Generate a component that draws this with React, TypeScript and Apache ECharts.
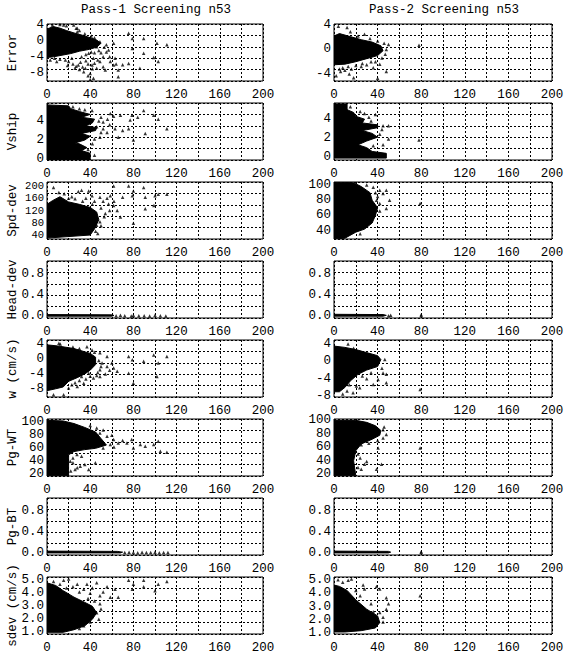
import React, { useEffect, useRef } from "react";
import * as echarts from "echarts";

const titles = ["Pass-1 Screening n53", "Pass-2 Screening n53"];
const yNames = ["Error", "Vship", "Spd-dev", "Head-dev", "w (cm/s)", "Pg-WT", "Pg-BT", "sdev (cm/s)"];
const xTickStep = 40;
const xMax = 200;

const yRangesP1 = [[-10.1, 4.25], [-0.1, 5.9], [27, 213], [-0.04, 1.04], [-10.2, 5.1], [17.5, 105], [-0.045, 1.056], [0.87, 5.25]];
const yRangesP2 = [[-5.15, 4.16], [-0.3, 5.7], [29, 104], [-0.04, 1.04], [-8.2, 4.9], [17.5, 102], [-0.045, 1.056], [0.95, 5.2]];
const yTicksP1 = [[4, 0, -4, -8], [0, 2, 4], [40, 80, 120, 160, 200], [0, 0.4, 0.8], [4, 0, -4, -8], [20, 40, 60, 80, 100], [0, 0.4, 0.8], [1, 2, 3, 4, 5]];
const yTicksP2 = [[4, 0, -4], [0, 2, 4], [40, 60, 80, 100], [0, 0.4, 0.8], [4, 0, -4, -8], [20, 40, 60, 80, 100], [0, 0.4, 0.8], [1, 2, 3, 4, 5]];
const yDecimals = [0, 0, 0, 1, 0, 0, 1, 1];

// ---- Error ----
const errP1Blob = [[0, 3.0], [6, 3.6], [12, 3.2], [18, 2.6], [25, 2.0], [33, 1.4], [40, 0.8], [46, 0.2], [50, -0.6], [46, -1.6], [38, -2.2], [30, -2.6], [22, -3.2], [14, -3.6], [6, -4.0], [0, -4.2]];
const errP1Pts = [[40, -9.7], [28, 2.3], [5, 4.0], [12, 4.1], [18, 3.8], [27, 3.2], [75.6, 1.9], [79, 0.6], [89.5, 0.6], [101.8, -0.6], [111, -1.0], [79, -1.9], [89.5, -3.1], [98.8, -4.2], [103, -5.2], [86, -6.9], [75.6, -5.7], [66, -9.0], [66, -7.3], [61.7, -6.1], [63, -4.4], [61.7, -0.6], [57, -2.3], [49, -0.2], [46, -1.5], [52, -4], [49, -5.2], [54, -7.3], [41.7, -6.1], [35.5, -6.9], [29, -6.1], [26, -6.9], [20, -5.2], [17, -4.8], [9, -5.2], [3, -4.8], [32, -4], [38.6, -3.1], [43, -4.4], [46, -6.9], [52, -6.5], [40, -8.2], [34, -7.8], [43, -9.4], [58.6, -5.2], [28, 3.2], [24.7, 4.0], [15.4, 4.0], [24, -5.8], [30, -7.2], [44, -5.6], [36, -5.0], [27, -6.4], [31, -5.4], [33, -6.6], [38, -5.8], [42, -7.0], [47, -4.8], [50, -3.0], [53, -1.6], [55, -2.8], [23, -4.4], [19, -6.2], [12, -4.6], [7, -4.4], [48, -2.4], [44, -3.0], [41, -2.8], [36, -3.4], [35, 1.8], [30, 2.6], [41, 1.2], [44, 0.8], [55, -1.0], [58, -4.0], [64, -5.8], [70, -6.0], [38, -8.8]];
const errP2Blob = [[0, 2.2], [5, 2.6], [15, 2.1], [25, 1.6], [35, 1.2], [43, 0.6], [45, -0.2], [40, -1.0], [30, -1.5], [20, -2.0], [10, -2.4], [0, -2.5]];
const errP2Pts = [[4, 3.8], [12, 3.6], [15, 2.9], [28, 2.5], [48, 0.0], [50, 0.8], [78, 0.7], [5, -3.2], [10, -3.4], [16, -3.2], [20, -2.6], [30, -2.5], [36, -3.0], [40, -4.7], [18, -4.6], [2, -4.3], [48, -3.6], [42, -2.4], [38, -2.0], [8, -3.0], [25, -2.8], [22, 2.2], [33, 1.8], [40, 1.4], [46, 1.0], [47, -0.8], [44, -1.4], [34, -2.0], [26, -2.3], [13, -2.8], [6, -3.6], [14, -4.0]];

// ---- Vship ----
const vshP1Blob = [[0, -0.05], [40, -0.05], [40, 0.6], [32, 0.9], [37, 1.2], [30, 1.6], [26, 1.7], [35, 2.0], [40, 2.4], [32, 2.7], [45, 3.0], [46, 3.3], [36, 3.5], [42, 3.8], [44, 4.2], [32, 4.4], [40, 4.7], [30, 5.0], [22, 5.3], [20, 5.6], [0, 5.7]];
const vshP1Pts = [[61.7, 4.5], [68, 4.6], [78.7, 4.6], [89.5, 5.1], [98.8, 4.6], [103, 4.2], [111, 3.2], [91, 2.7], [77, 4.1], [75.6, 3.2], [63, 3.2], [55.6, 2.8], [49, 2.3], [66, 2.3], [80, 2.0], [58.6, 4.8], [46, 3.4], [41.7, 5.1], [52, 3.9], [34, 2.5], [28, 1.4], [50, 4.4], [56, 4.2], [44, 2.1], [24, 5.5], [30, 5.3], [35, 5.2], [48, 4.0], [52, 3.2], [42, 1.6], [38, 1.0], [44, 0.4], [36, 4.1], [50, 2.8], [58, 3.6], [70, 3.0], [84, 4.4]];
const vshP2Blob = [[0, -0.1], [48, -0.1], [48, 0.4], [35, 0.6], [30, 1.0], [22, 1.3], [30, 1.7], [40, 2.1], [35, 2.5], [26, 2.8], [40, 3.1], [40, 3.4], [26, 3.6], [28, 4.0], [20, 4.3], [18, 4.7], [12, 5.0], [12, 5.6], [0, 5.6]];
const vshP2Pts = [[28, 4.6], [38, 4.5], [12, 4.9], [20, 3.9], [45, 3.3], [50, 3.3], [50, 1.9], [78, 1.8], [45, 1.3], [32, 4.2], [15, 5.3], [24, 4.8], [34, 3.8], [42, 2.4], [36, 1.2], [44, 2.9]];

// ---- Spd-dev ----
const spdP1Blob = [[0, 30], [40, 40], [44, 60], [48, 90], [46, 115], [40, 130], [30, 140], [20, 148], [12, 165], [5, 152], [0, 140]];
const spdP1Pts = [[6, 195], [11, 179], [23, 165], [29, 182], [32, 186], [38.6, 184], [41.7, 168], [49, 163], [55.6, 160], [58.6, 168], [61.7, 200], [75.6, 200], [79, 168], [80, 184], [89.5, 195], [91, 163], [100, 168], [103, 173], [111, 173], [91, 126], [99, 136], [80, 78], [68, 99], [61.7, 136], [54, 110], [49, 83], [46, 72], [65, 120], [57, 141], [52, 150], [44, 150], [36, 160], [26, 158], [33, 150], [42, 140], [50, 128], [53, 100], [50, 70], [45, 52], [16, 175], [20, 160], [58, 120], [62, 150], [70, 163], [47, 45]];
const spdP2Blob = [[0, 29], [10, 30], [20, 38], [28, 42], [35, 50], [38, 60], [40, 70], [35, 80], [33, 90], [25, 98], [18, 103], [0, 104]];
const spdP2Pts = [[42, 93.3], [48, 93.3], [45, 88.9], [39, 80], [51, 80], [42, 75.6], [48, 69], [79, 75.6], [37.4, 62], [34, 53], [30, 100], [36, 97], [40, 85], [38, 90], [42, 66], [30, 46], [24, 36]];

// ---- Head-dev ----
const hdgP1Blob = [[0, -0.005], [60, -0.005], [62, 0.008], [60, 0.02], [0, 0.025]];
const hdgP1Pts = [[64, 0.005], [68, 0.01], [72, 0.005], [78, 0.0], [80, 0.01], [85, 0.005], [90, 0.005], [95, 0.0], [100, 0.01], [105, 0.005], [110, 0.0]];
const hdgP2Blob = [[0, -0.005], [45, -0.005], [48, 0.01], [45, 0.025], [0, 0.03]];
const hdgP2Pts = [[50, 0.005], [52, 0.01], [80, 0.005], [80, 0.02]];

// ---- w (cm/s) ----
const wP1Blob = [[0, 3.8], [10, 3.5], [25, 2.8], [40, 1.5], [45, 0.5], [45, -1.5], [40, -3], [35, -4], [28, -5], [20, -6], [15, -7.5], [8, -8], [0, -8.5]];
const wP1Pts = [[12.3, 4.0], [37, 3.3], [41.7, 2.4], [49, 1.7], [55.6, 0.7], [60, -1.1], [55.6, -2.0], [49, -2.9], [51, -1.1], [61.7, -2.4], [65, -3.3], [75.6, 0.7], [79, -0.2], [89.5, -0.6], [98.8, 1.1], [111, 0.7], [103, -1.1], [101.8, -4.7], [75.6, -3.8], [80, -6.5], [34, -6.5], [28, -7.4], [23, -6.9], [15.4, -9.6], [6, -9.6], [43, -5.1], [49, -4.7], [38.6, -3.8], [32, -4.7], [11, 4.2], [46, -4.4], [54, -4.0], [40, -4.6], [36, -5.4], [30, -5.8], [26, -6.4], [20, -7.8], [24, 3.2], [30, 2.8], [44, 1.8], [48, -0.4], [50, -2.0], [58, -3.0], [47, -3.6]];
const wP2Blob = [[0, 3.5], [10, 3.2], [20, 2.7], [30, 2.0], [40, 1.3], [43, 0.4], [40, -1.2], [30, -2.0], [22, -3.0], [15, -4.5], [10, -6], [5, -7], [0, -7]];
const wP2Pts = [[12.9, 4.0], [20.5, -5.7], [17.5, -7.2], [23.6, -6.1], [36, -5.3], [40.5, -4.2], [48, -4.9], [45, -2.7], [46.6, 0.4], [48, -3.0], [79, -6.5], [8, -7.5], [30, -4.0], [26, -3.4], [34, -2.6], [44, -1.6], [18, 3.0], [12, -6.8], [14, -5.4]];

// ---- Pg-WT ----
const pgwP1Blob = [[0, 18], [20, 18], [20, 50], [25, 55], [35, 58], [45, 60], [55, 65], [50, 75], [45, 85], [35, 92], [25, 98], [15, 102], [0, 103]];
const pgwP1Pts = [[46, 91], [49, 83.6], [55.6, 78.5], [61.7, 73.4], [66, 68], [74, 68], [80, 60.6], [86.4, 65.7], [91, 63], [98.8, 65.7], [103, 70.8], [105, 55.5], [111, 54], [78.4, 73.4], [58.6, 65.7], [52, 60.6], [27.8, 50.4], [32, 48], [44.8, 37.7], [30.8, 32.5], [26, 27.4], [38.6, 27.4], [21.6, 40], [24, 45], [28, 30], [40, 95], [52, 88], [60, 80], [70, 72], [62, 62], [24, 38], [22, 25], [35, 35]];
const pgwP2Blob = [[0, 18], [20, 18], [18, 40], [20, 55], [25, 65], [35, 72], [42, 78], [43, 85], [38, 92], [30, 97], [20, 100], [0, 100]];
const pgwP2Pts = [[45, 86], [48, 79], [45, 74], [40.5, 59], [79, 59], [43.6, 35], [28, 35], [25, 27.5], [39, 27.5], [25, 64], [30, 39], [22, 30], [46, 90], [40, 70], [32, 66], [22, 50], [24, 44]];

// ---- Pg-BT ----
const pgbP1Blob = [[0, -0.005], [68, -0.005], [70, 0.01], [65, 0.025], [0, 0.03]];
const pgbP1Pts = [[72, 0.005], [76, 0.01], [80, 0.005], [84, 0.0], [88, 0.01], [92, 0.005], [96, 0.005], [100, 0.01], [104, 0.0], [108, 0.005], [112, 0.005]];
const pgbP2Blob = [[0, -0.005], [50, -0.005], [52, 0.01], [50, 0.025], [0, 0.03]];
const pgbP2Pts = [[80, 0.005], [80, 0.02]];

// ---- sdev (cm/s) ----
const sdvP1Blob = [[0, 1.0], [15, 1.0], [25, 1.2], [35, 1.5], [42, 2.0], [46, 2.5], [42, 3.0], [35, 3.3], [25, 3.7], [15, 4.2], [8, 4.6], [0, 4.8]];
const sdvP1Pts = [[6, 4.9], [15.4, 5.0], [20, 5.1], [28, 4.7], [37, 4.7], [46, 4.8], [55.6, 4.5], [63, 4.3], [75.6, 5.0], [79, 4.3], [89.5, 5.0], [100, 4.2], [111, 4.9], [89.5, 4.5], [103, 4.7], [80, 4.7], [49, 3.8], [58.6, 3.7], [66, 3.7], [40, 4.0], [34, 4.3], [49, 3.2], [46, 2.5], [40, 1.8], [34, 1.5], [24, 4.5], [30, 4.1], [12, 4.7], [18, 4.4], [42, 4.4], [52, 4.1], [44, 3.4], [38, 3.6], [50, 2.8], [48, 2.0], [30, 1.3]];
const sdvP2Blob = [[0, 1.1], [10, 1.1], [25, 1.2], [38, 1.4], [42, 1.8], [40, 2.3], [30, 2.8], [20, 3.5], [12, 4.2], [5, 4.5], [0, 4.6]];
const sdvP2Pts = [[3.7, 5.0], [13, 4.95], [16, 5.05], [26.7, 4.6], [28, 4.3], [39, 4.5], [42, 4.3], [48, 3.65], [50, 3.2], [48, 2.8], [42, 2.55], [45, 2.2], [79, 3.8], [45, 1.85], [20, 4.2], [24, 3.8], [34, 3.2], [36, 2.6], [8, 4.8]];

const blobsP1 = [errP1Blob, vshP1Blob, spdP1Blob, hdgP1Blob, wP1Blob, pgwP1Blob, pgbP1Blob, sdvP1Blob];
const ptsP1 = [errP1Pts, vshP1Pts, spdP1Pts, hdgP1Pts, wP1Pts, pgwP1Pts, pgbP1Pts, sdvP1Pts];
const blobsP2 = [errP2Blob, vshP2Blob, spdP2Blob, hdgP2Blob, wP2Blob, pgwP2Blob, pgbP2Blob, sdvP2Blob];
const ptsP2 = [errP2Pts, vshP2Pts, spdP2Pts, hdgP2Pts, wP2Pts, pgwP2Pts, pgbP2Pts, sdvP2Pts];

const FONT = "Liberation Mono";
const FS = 12.5;
const FW = "normal";

function buildOption() {
  const grids: any[] = [];
  const xAxes: any[] = [];
  const yAxes: any[] = [];
  const series: any[] = [];
  const graphics: any[] = [];
  const colLeft = [47, 334];
  const colWidth = [216, 218];
  const top0 = 24;
  const pitch = 79;
  const h = 57;
  let gi = 0;
  for (let col = 0; col < 2; col++) {
    const ranges = col === 0 ? yRangesP1 : yRangesP2;
    const ticks = col === 0 ? yTicksP1 : yTicksP2;
    const blobs = col === 0 ? blobsP1 : blobsP2;
    const pts = col === 0 ? ptsP1 : ptsP2;
    for (let row = 0; row < 8; row++) {
      const top = top0 + row * pitch;
      grids.push({
        left: colLeft[col], top, width: colWidth[col], height: h,
        show: true, borderColor: "#000", borderWidth: 1, backgroundColor: "transparent",
      });
      xAxes.push({
        type: "value", gridIndex: gi, min: 0, max: xMax, interval: 20,
        axisLine: { show: false }, axisTick: { show: false },
        axisLabel: {
          color: "#000", fontFamily: FONT, fontSize: FS, fontWeight: FW, margin: 7,
          formatter: (v: number) => (v % xTickStep === 0 ? String(v) : ""),
        },
        splitLine: { show: true, lineStyle: { color: "#000", width: 1, type: [2, 2] } },
      });
      const dec = yDecimals[row];
      const dense = col === 0 && row === 2;
      yAxes.push({
        type: "value", gridIndex: gi, min: ranges[row][0], max: ranges[row][1],
        axisLine: { show: false }, axisTick: { show: false },
        splitLine: { show: false },
        axisLabel: {
          color: "#000", fontFamily: FONT, fontSize: dense ? 10.5 : FS, fontWeight: FW,
          lineHeight: dense ? 10 : undefined, margin: 3,
          showMinLabel: true, showMaxLabel: true, hideOverlap: false,
          customValues: ticks[row],
          formatter: (v: number) => (dec ? v.toFixed(dec) : String(Math.round(v))),
        },
      });
      yAxes.push({
        type: "value", gridIndex: gi, min: 0, max: 5, interval: 1, position: "right",
        axisLine: { show: false }, axisTick: { show: false }, axisLabel: { show: false },
        splitLine: { show: true, lineStyle: { color: "#000", width: 1, type: [2, 2] } },
      });
      const blob = blobs[row];
      series.push({
        type: "custom", xAxisIndex: gi, yAxisIndex: gi * 2, clip: true,
        data: blob,
        renderItem: (params: any, api: any) => {
          if (params.dataIndex !== 0) return null;
          const points = blob.map((p) => api.coord(p));
          return { type: "polygon", shape: { points }, style: { fill: "#000", stroke: "#000", lineWidth: 1 } };
        },
        silent: true,
      });
      series.push({
        type: "scatter", xAxisIndex: gi, yAxisIndex: gi * 2, clip: true,
        data: pts[row], symbol: "triangle", symbolSize: 3.5,
        itemStyle: { color: "#000" }, silent: true,
      });
      if (col === 0) {
        graphics.push({
          type: "text", x: 13, y: top + h / 2, rotation: Math.PI / 2,
          style: { text: yNames[row], fill: "#000", font: `${FW} ${FS}px "${FONT}"`, align: "center", verticalAlign: "middle" },
        });
      }
      gi++;
    }
    graphics.push({
      type: "text", x: colLeft[col] + colWidth[col] / 2 + 1, y: 10,
      style: { text: titles[col], fill: "#000", font: `${FW} ${FS}px "${FONT}"`, align: "center", verticalAlign: "middle" },
    });
  }
  return {
    animation: false,
    backgroundColor: "#fff",
    grid: grids,
    xAxis: xAxes,
    yAxis: yAxes,
    series,
    graphic: graphics,
  };
}

export default function App() {
  const ref = useRef<HTMLDivElement>(null);
  useEffect(() => {
    if (!ref.current) return;
    const chart = echarts.init(ref.current, null, { renderer: "svg" });
    chart.setOption(buildOption() as any);
    return () => chart.dispose();
  }, []);
  return <div ref={ref} style={{ position: "fixed", left: 0, top: 0, width: 568, height: 656, background: "#fff" }} />;
}
